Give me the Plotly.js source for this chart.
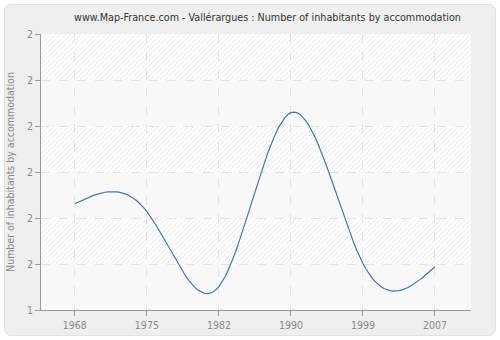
<!DOCTYPE html>
<html><head><meta charset="utf-8">
<script src="https://cdn.plot.ly/plotly-3.0.1.min.js"></script>
<style>
html,body{margin:0;padding:0;background:#fff;}
#frame{position:absolute;left:4px;top:4px;width:490px;height:330px;border-radius:7px;background:#efefef;border:1px solid #e2e2e2;}
#chart{position:absolute;left:0;top:0;width:500px;height:340px;}
</style></head>
<body>
<div id="frame"></div>
<div id="chart"></div>
<script>
const years = ["1968","1975","1982","1990","1999","2007"];
const values = [1.631, 1.614, 1.451, 1.829, 1.501, 1.494];
const yTickVals = [1.4, 1.5, 1.6, 1.7, 1.8, 1.9, 2.0];
const yTickText = ["1","2","2","2","2","2","2"];

// Natural cubic spline through the data (evenly spaced categories), as the original line style
function naturalSpline(ys, steps) {
  const n = ys.length;
  const M = new Array(n).fill(0);
  const a = [], b = [], c = [], d = [];
  for (let i = 1; i < n - 1; i++) {
    a.push(1); b.push(4); c.push(1);
    d.push(6 * (ys[i+1] - 2*ys[i] + ys[i-1]));
  }
  const m = d.length;
  for (let i = 1; i < m; i++) {
    const w = a[i] / b[i-1];
    b[i] -= w * c[i-1];
    d[i] -= w * d[i-1];
  }
  const sol = new Array(m);
  sol[m-1] = d[m-1] / b[m-1];
  for (let i = m - 2; i >= 0; i--) sol[i] = (d[i] - c[i] * sol[i+1]) / b[i];
  for (let i = 0; i < m; i++) M[i+1] = sol[i];
  const xs = [], out = [];
  for (let i = 0; i < n - 1; i++) {
    for (let k = 0; k < steps; k++) {
      const t = k / steps, u = 1 - t;
      xs.push(i + t);
      out.push(ys[i]*u + ys[i+1]*t + (M[i]*(u*u*u - u) + M[i+1]*(t*t*t - t)) / 6);
    }
  }
  xs.push(n - 1); out.push(ys[n-1]);
  return {xs, out};
}
const curve = naturalSpline(values, 24);
const idx = years.map((_, i) => i);

const bands = [];
for (let i = 0; i < yTickVals.length - 1; i++) {
  if (i % 2 === 0) {
    bands.push({type:'rect', xref:'paper', yref:'y', x0:0, x1:1, y0:yTickVals[i], y1:yTickVals[i+1],
      fillcolor:'#f8f8f8', line:{width:0}, layer:'below'});
  }
}

const hatchSvg = "<svg xmlns='http://www.w3.org/2000/svg' width='430' height='276'><defs><pattern id='p' width='5' height='5' patternUnits='userSpaceOnUse'><path d='M-1,1 L1,-1 M0,5 L5,0 M4,6 L6,4' stroke='#ebebeb' stroke-width='1'/></pattern></defs><rect width='430' height='276' fill='#ffffff'/><rect width='430' height='276' fill='url(#p)'/></svg>";
const hatchSrc = 'data:image/svg+xml;charset=utf-8,' + encodeURIComponent(hatchSvg);

const trace = {
  x: curve.xs, y: curve.out, type:'scatter', mode:'lines',
  line:{color:'#4a74a8', width:1.2},
  hoverinfo:'none'
};

const font = '"DejaVu Sans Condensed", "DejaVu Sans", sans-serif';
const layout = {
  width:500, height:340,
  paper_bgcolor:'rgba(0,0,0,0)', plot_bgcolor:'#ffffff',
  margin:{l:41, r:29, t:34, b:30},
  showlegend:false,
  font:{family:font, size:10, color:'#888'},
  title:{text:'www.Map-France.com - Vallérargues : Number of inhabitants by accommodation',
    font:{family:font, size:10.7, color:'#333'}, x:0.535, xanchor:'center', y:0.948, yanchor:'middle'},
  xaxis:{range:[-0.47, 5.5], tickvals:idx, ticktext:years, showgrid:true, gridcolor:'#e4e4e4', griddash:'dash',
    ticks:'outside', ticklen:5, tickcolor:'#999', showline:true, linecolor:'#999', linewidth:1,
    zeroline:false, tickfont:{size:10.5, color:'#888'}},
  yaxis:{range:[1.4, 2.0], tickvals:yTickVals, ticktext:yTickText, showgrid:true, gridcolor:'#e4e4e4', griddash:'dash',
    ticks:'outside', ticklen:5, tickcolor:'#999', showline:true, linecolor:'#999', linewidth:1,
    zeroline:false, tickfont:{size:10.5, color:'#888'},
    title:{text:'Number of inhabitants by accommodation', font:{size:10.5, color:'#888'}, standoff:10}},
  images:[{source:hatchSrc, xref:'paper', yref:'paper', x:0, y:1, sizex:1, sizey:1,
    xanchor:'left', yanchor:'top', sizing:'stretch', layer:'below'}],
  shapes: bands
};
Plotly.newPlot('chart', [trace], layout, {staticPlot:true, displayModeBar:false});
</script>
</body></html>
